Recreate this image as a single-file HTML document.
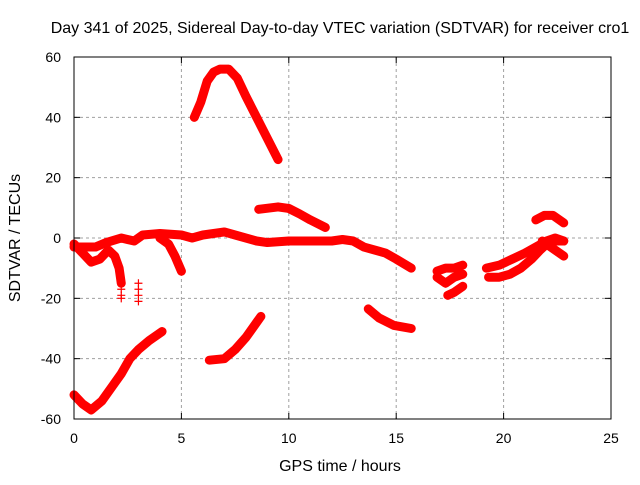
<!DOCTYPE html>
<html><head><meta charset="utf-8"><style>
body{margin:0;background:#fff}
svg text{font-family:"Liberation Sans",sans-serif;fill:#000}
</style></head><body>
<svg id="chart" width="640" height="480" xmlns="http://www.w3.org/2000/svg">
<text x="340" y="33" font-size="16" text-anchor="middle">Day 341 of 2025, Sidereal Day-to-day VTEC variation (SDTVAR) for receiver cro1</text>
<g id="grid"></g>
<g id="ticks"></g>
<g id="marks"></g>
<rect x="74" y="57" width="537" height="362" fill="none" stroke="#000" stroke-width="1"/>
<text x="340" y="471" font-size="16" text-anchor="middle">GPS time / hours</text>
<text transform="translate(20,238) rotate(-90)" font-size="16" text-anchor="middle">SDTVAR / TECUs</text>
</svg>
<script>
const xTicks=[0,5,10,15,20,25];
const yTicks=[-60,-40,-20,0,20,40,60];
const trackTimes=[
[0,0.4,0.8,1.3,1.8,2.2,2.6,3.0,3.5,4.1],
[5.6,5.9,6.2,6.5,6.8,7.2,7.6,8.0,8.5,9.0,9.5],
[6.3,7,7.5,8,8.4,8.7],
[8.6,9.5,10,10.5,11,11.7],
[0,1,1.5,2.2,2.8,3.2,4,5,5.5,6,7,7.5,8.5,9,10,11,12,12.5,13,13.5,14.5,15,15.7],
[0,0.4,0.8,1.2,1.6,1.9,2.1,2.2],
[4.0,4.4,4.7,5.0],
[13.7,14.2,14.9,15.7],
[16.9,17.3,17.7,18.1],
[16.9,17.3,17.7,18.1],
[17.4,17.7,18.1],
[19.3,19.8,20.3,20.8,21.3,21.7,22.0,22.4,22.8],
[19.2,19.8,20.4,21.0,21.5,22.0,22.4,22.8],
[21.8,22.2,22.5,22.8],
[21.5,21.9,22.3,22.8]
];
const trackValues=[
[-52,-55,-57,-54,-49,-45,-40,-37,-34,-31],
[40,45,52,55,56,56,53,47,40,33,26],
[-40.5,-40,-37,-33,-29,-26],
[9.5,10.3,9.8,8,6,3.5],
[-3,-3,-1.5,0,-1,1,1.5,1,0,1,2,1,-1,-1.5,-1,-1,-1,-0.5,-1,-3,-5,-7,-10],
[-2,-5,-8,-7,-4,-6,-10,-15],
[0,-2,-6,-11],
[-23.5,-26.5,-29,-30],
[-11,-10,-10,-9],
[-13,-15,-13,-12],
[-19,-18,-16],
[-13,-13,-12,-10,-7,-4,-2,-1,-1],
[-10,-9,-7,-5,-3,-1,0,-1],
[-1,-3,-4.5,-6],
[6,7.5,7.5,5]
];
const scatterTimes=[2.2,2.2,2.2,2.2,3.0,3.0,3.0,3.0];
const scatterValues=[-15,-17,-19,-20,-15,-17,-19,-21];
const NS='http://www.w3.org/2000/svg';
const X=t=>74+t*537/25, Y=v=>238-v*362/120;
function mk(tag,attrs,parent){const e=document.createElementNS(NS,tag);for(const k in attrs)e.setAttribute(k,attrs[k]);parent.appendChild(e);return e;}
const grid=document.getElementById('grid'),ticks=document.getElementById('ticks'),marks=document.getElementById('marks');
xTicks.forEach(t=>{
 if(t>0&&t<25){const g=mk('line',{x1:X(t),x2:X(t),y1:57,y2:419,stroke:'#a0a0a0','stroke-dasharray':'3,3'},grid);
 
 }
 mk('line',{x1:X(t),x2:X(t),y1:419,y2:413,stroke:'#000'},grid);
 mk('line',{x1:X(t),x2:X(t),y1:57,y2:63,stroke:'#000'},grid);
 const l=mk('text',{x:X(t),y:443,'font-size':14,'text-anchor':'middle'},ticks);l.textContent=t;
 
 
});
yTicks.forEach(v=>{
 if(v>-60&&v<60){const g=mk('line',{x1:74,x2:611,y1:Y(v),y2:Y(v),stroke:'#a0a0a0','stroke-dasharray':'3,3'},grid);
 
 }
 mk('line',{x1:74,x2:80,y1:Y(v),y2:Y(v),stroke:'#000'},grid);
 mk('line',{x1:605,x2:611,y1:Y(v),y2:Y(v),stroke:'#000'},grid);
 const l=mk('text',{x:61,y:Y(v)+5,'font-size':14,'text-anchor':'end'},ticks);l.textContent=v;
 
 
});
function plus(t,v){const x=X(t),y=Y(v);
 const p=mk('path',{d:`M${x-4},${y}H${x+4}M${x},${y-4}V${y+4}`,stroke:'#f00','stroke-width':1.2},marks);
 
 }
trackTimes.forEach((ts,i)=>{
 const vs=trackValues[i];
 const pts=ts.map((t,j)=>X(t)+','+Y(vs[j])).join(' ');
 const pl=mk('polyline',{points:pts,fill:'none',stroke:'#f00','stroke-width':9,'stroke-linejoin':'round','stroke-linecap':'round'},marks);
 
 
 ts.forEach((t,j)=>plus(t,vs[j]));
});
scatterTimes.forEach((t,i)=>plus(t,scatterValues[i]));
</script>
</body></html>
